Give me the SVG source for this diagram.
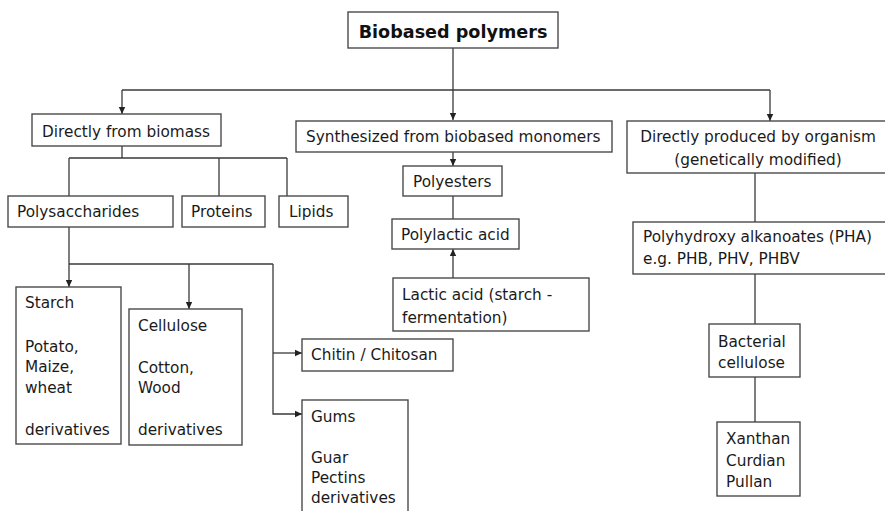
<svg xmlns="http://www.w3.org/2000/svg" width="885" height="511" viewBox="0 0 885 511">
<defs>
<style>
.box{fill:#fff;stroke:#4a4a4a;stroke-width:1.4}
.t{font-family:"DejaVu Sans",Verdana,sans-serif;font-size:15.3px;fill:#1a1a1a}
.b{font-family:"DejaVu Sans",Verdana,sans-serif;font-size:17.6px;font-weight:bold;fill:#111}
.c{fill:none;stroke:#3a3a3a;stroke-width:1.3}
</style>
<marker id="ah" markerUnits="userSpaceOnUse" markerWidth="8" markerHeight="8" refX="7" refY="4" orient="auto">
<path d="M0,0.8 L7,4 L0,7.2 Z" fill="#222"/>
</marker>
</defs>
<rect width="885" height="511" fill="#fff"/>
<g id="connectors">
<path class="c" d="M453,48 V120" marker-end="url(#ah)"/>
<path class="c" d="M122,90 H770"/>
<path class="c" d="M122,90 V114" marker-end="url(#ah)"/>
<path class="c" d="M770,90 V121" marker-end="url(#ah)"/>
<path class="c" d="M122,146 V158 M69,158 H287 M69,158 V196 M219,158 V196 M287,158 V196"/>
<path class="c" d="M453,152 V166" marker-end="url(#ah)"/>
<path class="c" d="M453,196 V219"/>
<path class="c" d="M453,278 V249" marker-end="url(#ah)"/>
<path class="c" d="M69,227 V287" marker-end="url(#ah)"/>
<path class="c" d="M69,264 H273"/>
<path class="c" d="M189,264 V309" marker-end="url(#ah)"/>
<path class="c" d="M273,264 V414 H302" marker-end="url(#ah)"/>
<path class="c" d="M273,353 H302" marker-end="url(#ah)"/>
<path class="c" d="M755,173 V222 M755,274 V324 M755,377 V422"/>
</g>
<g id="n-title"><rect class="box" x="348" y="12" width="210" height="36"/><text class="b" x="453" y="38" text-anchor="middle">Biobased polymers</text></g>
<g id="n-direct"><rect class="box" x="32" y="114" width="189" height="32"/><text class="t" x="42" y="137">Directly from biomass</text></g>
<g id="n-synth"><rect class="box" x="296" y="121" width="316" height="31"/><text class="t" x="306" y="142">Synthesized from biobased monomers</text></g>
<g id="n-organism"><rect class="box" x="627" y="121" width="265" height="52"/><text class="t" x="758" y="142" text-anchor="middle">Directly produced by organism</text><text class="t" x="758" y="165" text-anchor="middle">(genetically modified)</text></g>
<g id="n-polysacch"><rect class="box" x="8" y="196" width="165" height="31"/><text class="t" x="17" y="217">Polysaccharides</text></g>
<g id="n-proteins"><rect class="box" x="182" y="196" width="83" height="31"/><text class="t" x="191" y="217">Proteins</text></g>
<g id="n-lipids"><rect class="box" x="279" y="196" width="69" height="31"/><text class="t" x="289" y="217">Lipids</text></g>
<g id="n-polyesters"><rect class="box" x="403" y="166" width="99" height="30"/><text class="t" x="413" y="187">Polyesters</text></g>
<g id="n-pla"><rect class="box" x="392" y="219" width="127" height="30"/><text class="t" x="401" y="240">Polylactic acid</text></g>
<g id="n-lactic"><rect class="box" x="393" y="278" width="196" height="53"/><text class="t" x="402" y="300">Lactic acid (starch -</text><text class="t" x="402" y="323">fermentation)</text></g>
<g id="n-pha"><rect class="box" x="633" y="222" width="259" height="52"/><text class="t" x="643" y="242">Polyhydroxy alkanoates (PHA)</text><text class="t" x="643" y="264">e.g. PHB, PHV, PHBV</text></g>
<g id="n-bacterial"><rect class="box" x="709" y="324" width="91" height="53"/><text class="t" x="718" y="347">Bacterial</text><text class="t" x="718" y="368">cellulose</text></g>
<g id="n-xanthan"><rect class="box" x="717" y="422" width="83" height="74"/><text class="t" x="726" y="444">Xanthan</text><text class="t" x="726" y="466">Curdian</text><text class="t" x="726" y="487">Pullan</text></g>
<g id="n-starch"><rect class="box" x="16" y="287" width="105" height="157"/><text class="t" x="25" y="308">Starch</text><text class="t" x="25" y="352">Potato,</text><text class="t" x="25" y="372">Maize,</text><text class="t" x="25" y="393">wheat</text><text class="t" x="25" y="435">derivatives</text></g>
<g id="n-cellulose"><rect class="box" x="129" y="309" width="113" height="136"/><text class="t" x="138" y="331">Cellulose</text><text class="t" x="138" y="373">Cotton,</text><text class="t" x="138" y="393">Wood</text><text class="t" x="138" y="435">derivatives</text></g>
<g id="n-chitin"><rect class="box" x="302" y="339" width="151" height="32"/><text class="t" x="311" y="360">Chitin / Chitosan</text></g>
<g id="n-gums"><rect class="box" x="302" y="400" width="106" height="125"/><text class="t" x="311" y="422">Gums</text><text class="t" x="311" y="463">Guar</text><text class="t" x="311" y="503">derivatives</text><text class="t" x="311" y="483">Pectins</text></g>
</svg>
